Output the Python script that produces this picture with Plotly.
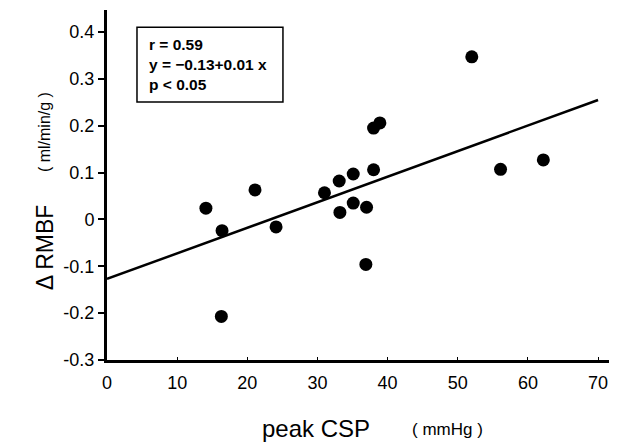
import plotly.graph_objects as go

# peak CSP (mmHg) vs change in RMBF (ml/min/g)
peak_csp = [14.1, 16.4, 16.3, 21.1, 24.1, 31.0, 33.1, 33.2, 35.1,
            35.1, 37.0, 36.9, 38.0, 38.0, 38.9, 52.0, 56.1, 62.2]
delta_rmbf = [0.024, -0.024, -0.207, 0.063, -0.016, 0.057, 0.082, 0.015, 0.097,
              0.035, 0.026, -0.096, 0.106, 0.195, 0.206, 0.347, 0.107, 0.127]

# regression line end points
fit_x = [0, 70]
fit_y = [-0.127, 0.255]

x_ticks = [0, 10, 20, 30, 40, 50, 60, 70]
y_ticks = [0.4, 0.3, 0.2, 0.1, 0, -0.1, -0.2, -0.3]
y_tick_text = ["0.4", "0.3", "0.2", "0.1", "0", "-0.1", "-0.2", "-0.3"]

stats_text = "r = 0.59<br>y = \u22120.13+0.01 x<br>p < 0.05"

font = "Liberation Sans, Arial, sans-serif"

fig = go.Figure()
fig.add_trace(go.Scatter(x=fit_x, y=fit_y, mode="lines",
                         line=dict(color="black", width=2.5),
                         hoverinfo="skip", showlegend=False))
fig.add_trace(go.Scatter(x=peak_csp, y=delta_rmbf, mode="markers",
                         marker=dict(color="black", size=13),
                         showlegend=False))

# page body has an 8px margin, so the figure is 8px smaller and shifted
fig.update_layout(
    width=609, height=439,
    margin=dict(l=99, r=0, t=2, b=87),
    paper_bgcolor="white", plot_bgcolor="white",
    font=dict(family=font, color="black"),
)
fig.update_xaxes(range=[0, 72.7], tickvals=x_ticks, ticks="inside", ticklen=3,
                 tickwidth=1, tickcolor="black", showgrid=False, zeroline=False,
                 showline=True, linecolor="black", linewidth=3,
                 tickfont=dict(size=18), ticklabelstandoff=4)
fig.update_yaxes(range=[-0.3, 0.447], tickvals=y_ticks, ticktext=y_tick_text,
                 ticks="outside", ticklen=6, tickwidth=1.5, tickcolor="black",
                 showgrid=False, zeroline=False, showline=True,
                 linecolor="black", linewidth=3, tickfont=dict(size=18))

# stats box
fig.add_shape(type="rect", xref="paper", yref="paper",
              x0=0.0588, x1=0.345, y0=0.737, y1=0.951,
              line=dict(color="black", width=1.5), fillcolor="white")
fig.add_annotation(text="<b>" + stats_text + "</b>", xref="paper", yref="paper",
                   x=0.078, y=0.844, xanchor="left", yanchor="middle",
                   align="left", showarrow=False, font=dict(size=15.5))

# axis titles
fig.add_annotation(text="peak CSP", xref="x", yref="paper", x=29.8, y=-0.24,
                   showarrow=False, font=dict(size=24))
fig.add_annotation(text="( mmHg )", xref="x", yref="paper", x=48.5, y=-0.232,
                   showarrow=False, font=dict(size=17))
fig.add_annotation(text="\u0394 RMBF", xref="paper", yref="y", x=-0.122, y=-0.06,
                   xanchor="center", textangle=-90, showarrow=False,
                   font=dict(size=23))
fig.add_annotation(text="( ml/min/g )", xref="paper", yref="y", x=-0.122, y=0.186,
                   xanchor="center", textangle=-90, showarrow=False,
                   font=dict(size=16))

fig.write_html("out.html")
